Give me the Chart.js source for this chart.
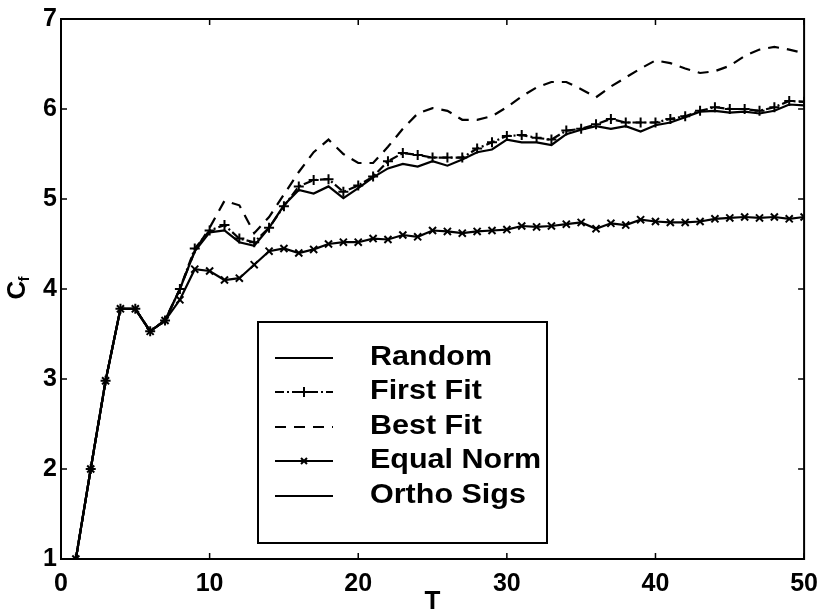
<!DOCTYPE html>
<html><head><meta charset="utf-8">
<script src="https://cdn.jsdelivr.net/npm/chart.js@4"></script>
<style>html,body{margin:0;padding:0;background:#fff}#wrap{width:828px;height:612px}</style>
</head><body><div id="wrap"><canvas id="c" width="828" height="612"></canvas></div>
<script>
const T = [1,2,3,4,5,6,7,8,9,10,11,12,13,14,15,16,17,18,19,20,21,22,23,24,25,26,27,28,29,30,31,32,33,34,35,36,37,38,39,40,41,42,43,44,45,46,47,48,49,50];
const random = [1,2,2.98,3.78,3.78,3.53,3.65, 4.0,4.42,4.63,4.65,4.52,4.48,4.68,4.93,5.1,5.06,5.14,5.01,5.12, 5.24,5.34,5.39,5.36,5.42,5.37,5.44,5.52,5.55,5.66, 5.63,5.63,5.6,5.72,5.77,5.81,5.78,5.81,5.75,5.82, 5.85,5.91,5.97,5.98,5.96,5.97,5.95,5.98,6.05,6.04];
const firstFit = [1,2,2.98,3.78,3.78,3.53,3.65, 4.0,4.45,4.65,4.71,4.56,4.52,4.68,4.92,5.14,5.21,5.22,5.08,5.15, 5.25,5.42,5.51,5.49,5.46,5.46,5.46,5.56,5.63,5.7, 5.71,5.68,5.66,5.76,5.78,5.83,5.89,5.85,5.85,5.85, 5.89,5.92,5.98,6.02,6.0,6.0,5.98,6.02,6.09,6.08];
const bestFit = [1,2,2.98,3.78,3.78,3.53,3.65, 4.0,4.42,4.68,4.98,4.93,4.62,4.8,5.05,5.3,5.52,5.66,5.5,5.4, 5.4,5.58,5.78,5.95,6.01,5.98,5.88,5.88,5.92,6.02, 6.14,6.24,6.3,6.3,6.22,6.13,6.25,6.35,6.45,6.54, 6.51,6.45,6.4,6.42,6.48,6.59,6.66,6.69,6.66,6.62];
const equalNorm = [1,2,2.98,3.78,3.78,3.53,3.65, 3.88,4.22,4.2,4.1,4.12,4.27,4.42,4.45,4.4,4.44,4.5,4.52,4.52, 4.56,4.55,4.6,4.58,4.65,4.64,4.62,4.64,4.65,4.66, 4.7,4.69,4.7,4.72,4.74,4.67,4.73,4.71,4.77,4.75, 4.74,4.74,4.75,4.78,4.79,4.8,4.79,4.8,4.78,4.8];
const orthoSigs = [1,2,2.98,3.78,3.78,3.53,3.65];
const xTicks = [0,10,20,30,40,50];
const yTicks = [1,2,3,4,5,6,7];
const seriesNames = ['Random','First Fit','Best Fit','Equal Norm','Ortho Sigs'];

const FONT = 'Liberation Sans';
const pts = arr => arr.map((v,i)=>({x:T[i], y:v}));

const base = {borderColor:'#000', backgroundColor:'#000', borderWidth:2.2, pointRadius:0, fill:false, tension:0};
const datasets = [
  Object.assign({}, base, {label:seriesNames[0], data:pts(random)}),
  Object.assign({}, base, {label:seriesNames[1], data:pts(firstFit), borderDash:[9,3,2,3], pointStyle:'cross', pointRadius:5, pointBorderWidth:2, pointBorderColor:'#000'}),
  Object.assign({}, base, {label:seriesNames[2], data:pts(bestFit), borderDash:[11,8]}),
  Object.assign({}, base, {label:seriesNames[3], data:pts(equalNorm), pointStyle:'crossRot', pointRadius:5, pointBorderWidth:2, pointBorderColor:'#000'}),
  Object.assign({}, base, {label:seriesNames[4], data:pts(orthoSigs)})
];

const framePlugin = {
  id:'frame',
  afterDraw(chart){
    const ctx = chart.ctx, a = chart.chartArea, xs = chart.scales.x, ys = chart.scales.y;
    ctx.save();
    ctx.strokeStyle = '#000'; ctx.lineWidth = 2;
    ctx.strokeRect(a.left, a.top, a.right-a.left, a.bottom-a.top);
    ctx.lineWidth = 1.5;
    const L = 6;
    ctx.beginPath();
    yTicks.forEach(v=>{ const y = ys.getPixelForValue(v);
      ctx.moveTo(a.left,y); ctx.lineTo(a.left+L,y); ctx.moveTo(a.right,y); ctx.lineTo(a.right-L,y); });
    xTicks.forEach(v=>{ const x = xs.getPixelForValue(v);
      ctx.moveTo(x,a.bottom); ctx.lineTo(x,a.bottom-L); ctx.moveTo(x,a.top); ctx.lineTo(x,a.top+L); });
    ctx.stroke();

    // axis titles
    ctx.fillStyle = '#000';
    ctx.font = 'bold 26px "'+FONT+'"';
    ctx.textAlign = 'center'; ctx.textBaseline = 'middle';
    ctx.fillText('T', (a.left+a.right)/2, 602);
    ctx.save();
    ctx.translate(18, 290); ctx.rotate(-Math.PI/2);
    ctx.textAlign = 'center'; ctx.textBaseline = 'middle';
    ctx.fillText('C', 0, 0);
    ctx.font = 'bold 15px "'+FONT+'"';
    ctx.fillText('f', 11, 7);
    ctx.restore();

    // legend
    const bx = 258, by = 322, bw = 289, bh = 221;
    ctx.fillStyle = '#fff';
    ctx.fillRect(bx, by, bw, bh);
    ctx.lineWidth = 2; ctx.strokeStyle = '#000';
    ctx.strokeRect(bx, by, bw, bh);
    const rowY = [358, 392, 427, 461, 496];
    const lx1 = 275, lx2 = 333, tx = 370;
    chart.data.datasets.forEach((ds,i)=>{
      const y = rowY[i];
      ctx.save();
      ctx.lineWidth = 2; ctx.strokeStyle = '#000';
      ctx.setLineDash(ds.borderDash || []);
      ctx.beginPath(); ctx.moveTo(lx1,y); ctx.lineTo(lx2,y); ctx.stroke();
      ctx.setLineDash([]);
      const mx = (lx1+lx2)/2;
      if (ds.pointStyle === 'cross') {
        ctx.beginPath(); ctx.moveTo(mx-5,y); ctx.lineTo(mx+5,y); ctx.moveTo(mx,y-5); ctx.lineTo(mx,y+5); ctx.stroke();
      } else if (ds.pointStyle === 'crossRot') {
        ctx.beginPath(); ctx.moveTo(mx-3,y-3); ctx.lineTo(mx+3,y+3); ctx.moveTo(mx-3,y+3); ctx.lineTo(mx+3,y-3); ctx.stroke();
      }
      ctx.restore();
      ctx.save();
      ctx.translate(tx, y); ctx.scale(1.13, 1);
      ctx.font = 'bold 27px "'+FONT+'"';
      ctx.textAlign = 'left'; ctx.textBaseline = 'middle';
      ctx.fillStyle = '#000';
      ctx.fillText(ds.label, 0, 0);
      ctx.restore();
    });
    ctx.restore();
  }
};

new Chart(document.getElementById('c'), {
  type:'line',
  data:{datasets},
  options:{
    responsive:false, animation:false, devicePixelRatio:1,
    layout:{padding:{top:18, right:14, left:0, bottom:0}},
    plugins:{legend:{display:false}, tooltip:{enabled:false}},
    scales:{
      x:{type:'linear', min:0, max:50,
        afterFit(s){ s.height = 53; },
        afterBuildTicks(s){ s.ticks = xTicks.map(v=>({value:v})); },
        grid:{display:false, drawTicks:false}, border:{display:false},
        ticks:{color:'#000', padding:10, maxRotation:0, font:{family:FONT, size:25, weight:'bold'}}},
      y:{type:'linear', min:1, max:7,
        afterFit(s){ s.width = 61; },
        afterBuildTicks(s){ s.ticks = yTicks.map(v=>({value:v})); },
        grid:{display:false, drawTicks:false}, border:{display:false},
        ticks:{color:'#000', padding:4, font:{family:FONT, size:25, weight:'bold'}}}
    }
  },
  plugins:[framePlugin]
});
</script>
</body></html>
